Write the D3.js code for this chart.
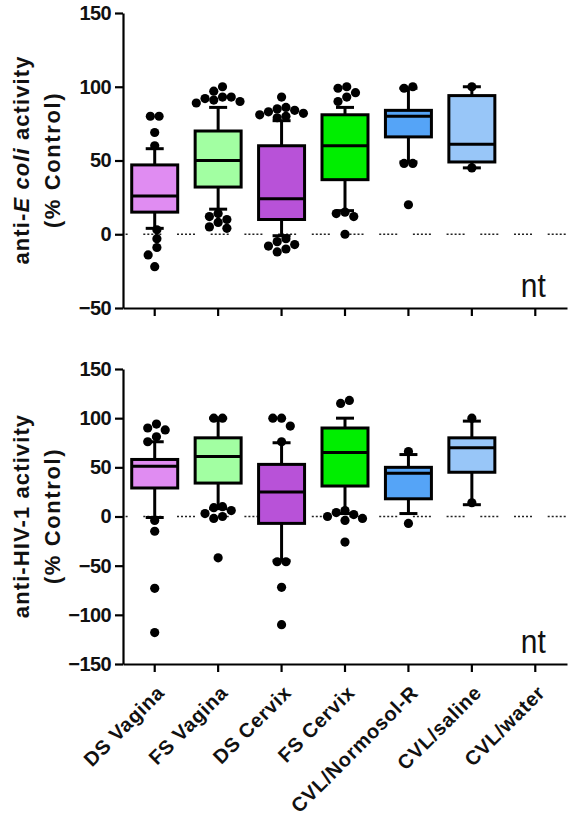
<!DOCTYPE html>
<html>
<head>
<meta charset="utf-8">
<script src="https://cdn.jsdelivr.net/npm/d3@7"></script>
<style>
  html, body { margin: 0; padding: 0; background: #ffffff; }
  svg { display: block; }
  text { font-family: "Liberation Sans", Arial, sans-serif; }
</style>
</head>
<body>
<svg id="chart" width="574" height="824"></svg>
<script>
// ---------- data ----------
const categories = ["DS Vagina", "FS Vagina", "DS Cervix", "FS Cervix", "CVL/Normosol-R", "CVL/saline", "CVL/water"];
const boxColors = ["#e08cf2", "#a2ffa2", "#b852d8", "#00ee00", "#55a4f7", "#98c6f8", "#cccccc"];

// anti-E. coli activity (% Control)
const ecoliLow    = [4, 17, -1, 16, 49, 45, null];
const ecoliQ1     = [15, 32, 10, 37, 66, 49, null];
const ecoliMedian = [26, 50, 24, 60, 80, 61, null];
const ecoliQ3     = [47, 70, 60, 81, 84, 94, null];
const ecoliHigh   = [58, 86, 77, 86, 99, 100, null];
const ecoliPoints = [
  [80, 80, 69, 60, 3, -3, -9, -14, -22],
  [100, 97, 93, 93, 92, 91, 90, 89, 14, 12, 10, 8, 5, 4],
  [93, 86, 85, 84, 83, 82, 81, 80, 79, -3, -5, -7, -8, -10, -12],
  [100, 99, 96, 93, 90, 15, 14, 12, 0],
  [100, 99, 48, 48, 20],
  [100, 45],
  []
];
const ecoliTicks = [-50, 0, 50, 100, 150];

// anti-HIV-1 activity (% Control)
const hivLow    = [-1, 8, -45, 3, 3, 12, null];
const hivQ1     = [29, 34, -7, 31, 18, 45, null];
const hivMedian = [51, 61, 25, 65, 44, 70, null];
const hivQ3     = [58, 80, 53, 90, 50, 80, null];
const hivHigh   = [76, 100, 75, 100, 63, 97, null];
const hivPoints = [
  [94, 90, 88, 81, 76, -4, -15, -73, -118],
  [100, 100, 10, 9, 6, 3, 0, -2, -42],
  [100, 100, 92, 76, -46, -46, -72, -110],
  [118, 115, 6, 4, 2, 0, -2, -4, -26],
  [66, -7],
  [100, 14],
  []
];
const hivTicks = [-150, -100, -50, 0, 50, 100, 150];

const notTested = "nt";

// ---------- layout ----------
const svg = d3.select("#chart");
const xLeft = 123, xRight = 567;
const x = d3.scaleBand().domain(categories).range([xLeft, xRight]).paddingInner(0).paddingOuter(0);
const boxW = x.bandwidth() * 0.725;
const capW = 18;
const dotR = 4.6;

function swarm(vals, y) {
  const d = dotR * 2;
  const pts = vals.map(v => ({ v, y: y(v), off: 0 })).sort((a, b) => a.y - b.y);
  const placed = [];
  pts.forEach(p => {
    const cands = [0, -1, 1, -2, 2, -3, 3, -4, 4];
    for (const k of cands) {
      const off = k * d * 0.95;
      const ok = placed.every(q => ((q.off - off) ** 2 + (q.y - p.y) ** 2) >= d * d * 0.8);
      if (ok) { p.off = off; break; }
    }
    placed.push(p);
  });
  // re-center clusters
  let cluster = [];
  const flush = () => {
    if (cluster.length) {
      const m = d3.mean(cluster, c => c.off);
      cluster.forEach(c => c.off -= m);
    }
    cluster = [];
  };
  pts.forEach((p, i) => {
    if (i > 0 && p.y - pts[i - 1].y >= d) flush();
    cluster.push(p);
  });
  flush();
  return pts;
}

function drawPanel(cfg) {
  const y = d3.scaleLinear().domain([cfg.ticks[0], cfg.ticks[cfg.ticks.length - 1]]).range([cfg.bottom, cfg.top]);
  const g = svg.append("g");

  // zero dotted line
  g.append("line")
    .attr("x1", xLeft).attr("x2", xRight)
    .attr("y1", y(0)).attr("y2", y(0))
    .attr("stroke", "#222").attr("stroke-width", 1.6)
    .attr("stroke-dasharray", "2,2,2,2,2,2,2,2,2,15.7")
    .attr("stroke-dashoffset", 13.4);

  categories.forEach((c, i) => {
    if (cfg.median[i] == null) return;
    const cx = x(c) + x.bandwidth() / 2;
    const bg = g.append("g");
    // whiskers
    bg.append("line").attr("x1", cx).attr("x2", cx).attr("y1", y(cfg.q3[i])).attr("y2", y(cfg.high[i]))
      .attr("stroke", "#000").attr("stroke-width", 3);
    bg.append("line").attr("x1", cx).attr("x2", cx).attr("y1", y(cfg.q1[i])).attr("y2", y(cfg.low[i]))
      .attr("stroke", "#000").attr("stroke-width", 3);
    [cfg.high[i], cfg.low[i]].forEach(v => {
      bg.append("line").attr("x1", cx - capW / 2).attr("x2", cx + capW / 2).attr("y1", y(v)).attr("y2", y(v))
        .attr("stroke", "#000").attr("stroke-width", 3);
    });
    // box
    bg.append("rect")
      .attr("x", cx - boxW / 2).attr("width", boxW)
      .attr("y", y(cfg.q3[i])).attr("height", y(cfg.q1[i]) - y(cfg.q3[i]))
      .attr("fill", boxColors[i]).attr("stroke", "#000").attr("stroke-width", 3);
    bg.append("line").attr("x1", cx - boxW / 2).attr("x2", cx + boxW / 2)
      .attr("y1", y(cfg.median[i])).attr("y2", y(cfg.median[i]))
      .attr("stroke", "#000").attr("stroke-width", 3);
    // points
    swarm(cfg.points[i], y).forEach(p => {
      bg.append("circle").attr("cx", cx + p.off).attr("cy", p.y).attr("r", dotR).attr("fill", "#000");
    });
  });

  // nt label
  const ntX = x("CVL/water") + x.bandwidth() / 2 - 2;
  g.append("text").attr("x", ntX).attr("y", cfg.bottom - 11)
    .attr("text-anchor", "middle").attr("font-size", 33)
    .attr("textLength", 25).attr("lengthAdjust", "spacingAndGlyphs")
    .attr("fill", "#111").text(notTested);

  // y axis
  const ya = g.append("g").attr("transform", `translate(${xLeft},0)`)
    .call(d3.axisLeft(y).tickValues(cfg.ticks).tickSize(8).tickSizeOuter(0).tickPadding(4));
  ya.select(".domain").attr("stroke", "#000").attr("stroke-width", 2.2);
  ya.selectAll(".tick line").attr("stroke", "#000").attr("stroke-width", 2.2);
  ya.selectAll(".tick text").attr("font-size", 20).attr("font-weight", "bold")
    .attr("letter-spacing", -0.6).attr("fill", "#111")
    .style("font-family", "'Liberation Sans', Arial, sans-serif");

  // x axis
  const xa = g.append("g").attr("transform", `translate(0,${cfg.bottom})`)
    .call(d3.axisBottom(x).tickSize(8).tickSizeOuter(0).tickFormat(""));
  xa.select(".domain").attr("stroke", "#000").attr("stroke-width", 2.2);
  xa.selectAll(".tick line").attr("stroke", "#000").attr("stroke-width", 2.2);

  // y title
  const t = g.append("text")
    .attr("transform", `translate(${cfg.titleX1},${cfg.titleY}) rotate(-90)`)
    .attr("text-anchor", "middle").attr("font-size", 22).attr("font-weight", "bold")
    .attr("letter-spacing", 1.1).attr("fill", "#111");
  cfg.titleParts.forEach(part => {
    t.append("tspan").attr("font-style", part.italic ? "italic" : "normal").text(part.text);
  });
  g.append("text")
    .attr("transform", `translate(${cfg.titleX2},${cfg.titleY}) rotate(-90)`)
    .attr("text-anchor", "middle").attr("font-size", 22).attr("font-weight", "bold")
    .attr("letter-spacing", 1.6).attr("fill", "#111")
    .text("(% Control)");

  return y;
}

drawPanel({
  top: 13, bottom: 308, ticks: ecoliTicks,
  low: ecoliLow, q1: ecoliQ1, median: ecoliMedian, q3: ecoliQ3, high: ecoliHigh, points: ecoliPoints,
  titleX1: 29, titleX2: 60, titleY: 160,
  titleParts: [{ text: "anti-" }, { text: "E coli", italic: true }, { text: " activity" }]
});

drawPanel({
  top: 369, bottom: 664, ticks: hivTicks,
  low: hivLow, q1: hivQ1, median: hivMedian, q3: hivQ3, high: hivHigh, points: hivPoints,
  titleX1: 29, titleX2: 60, titleY: 516,
  titleParts: [{ text: "anti-HIV-1 activity" }]
});

// x category labels (bottom panel)
svg.append("g").selectAll("text").data(categories).join("text")
  .attr("transform", d => `translate(${x(d) + x.bandwidth() / 2 + 11},${694}) rotate(-45)`)
  .attr("text-anchor", "end").attr("font-size", 20).attr("font-weight", "bold")
  .attr("letter-spacing", 0.7).attr("fill", "#111")
  .text(d => d);
</script>
</body>
</html>
